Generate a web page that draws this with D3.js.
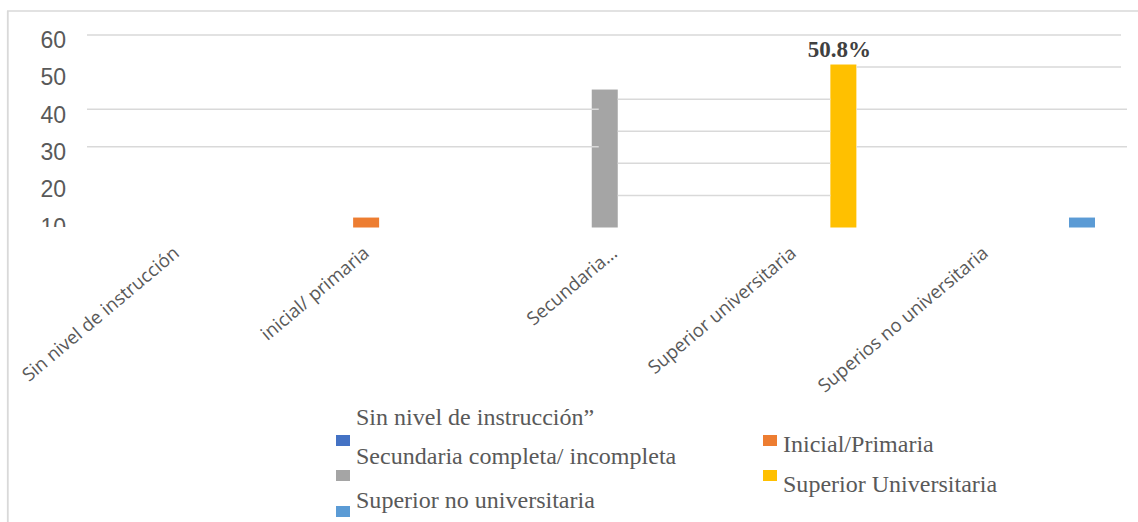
<!DOCTYPE html>
<html>
<head>
<meta charset="utf-8">
<script src="https://cdn.jsdelivr.net/npm/d3@7"></script>
<style>
  html, body { margin: 0; padding: 0; background: #fff; }
  svg { display: block; }
</style>
</head>
<body>
<svg id="chart" width="1138" height="522"></svg>
<script>
// ---- data ----
const categories = ["Sin nivel de instrucción", "inicial/ primaria", "Secundaria...", "Superior universitaria", "Superios no universitaria"];
const values = [0, 3.1, 43.0, 50.8, 3.1];
const barColors = ["#4472C4", "#ED7D31", "#A5A5A5", "#FFC000", "#5B9BD5"];
const dataLabels = ["", "", "", "50.8%", ""];
const yTicks = [60, 50, 40, 30, 20, 10];
const legendNames = ["Sin nivel de instrucción\u201D", "Inicial/Primaria", "Secundaria completa/ incompleta", "Superior Universitaria", "Superior no universitaria"];
const legendColors = ["#4472C4", "#ED7D31", "#A5A5A5", "#FFC000", "#5B9BD5"];

// ---- layout ----
const svg = d3.select("#chart");
const W = 1138, H = 522;
const grid = "#d9d9d9";
const plotLeft = 87, plotRight = 1121;
const bw = 26;

// scale used by bars (and the gridlines drawn with them)
const y = d3.scaleLinear().domain([0, 60]).range([227.5, 35]);
// scale of the value-axis labels panel
const yAx = d3.scaleLinear().domain([60, 30]).range([34.3, 146.7]);
// bar positions
const x = d3.scalePoint().domain(categories).range([127.5, 1082]);
// category label anchors
const xLab = d3.scaleOrdinal().domain(categories).range([172, 362, 610, 789, 981]);

// border
svg.append("line").attr("x1", 7).attr("x2", W).attr("y1", 11).attr("y2", 11)
  .attr("stroke", grid).attr("stroke-width", 1.6);
svg.append("line").attr("x1", 7.8).attr("x2", 7.8).attr("y1", 11).attr("y2", H)
  .attr("stroke", grid).attr("stroke-width", 1.8);

// bars
svg.append("g").selectAll("rect").data(categories).join("rect")
  .attr("x", d => x(d) - bw / 2)
  .attr("width", bw)
  .attr("y", (d, i) => y(values[i]))
  .attr("height", (d, i) => y(0) - y(values[i]))
  .attr("fill", (d, i) => barColors[i]);

// gridlines (patchwork as in reference)
const gl = svg.append("g").attr("stroke", grid).attr("stroke-width", 1.5);
function seg(x1, x2, yy) {
  gl.append("line").attr("x1", x1).attr("x2", x2).attr("y1", yy).attr("y2", yy);
}
const grayL = x(categories[2]) - bw / 2, grayR = x(categories[2]) + bw / 2;
const yelL = x(categories[3]) - bw / 2, yelR = x(categories[3]) + bw / 2;
seg(plotLeft, plotRight, y(60));
seg(yelR, plotRight, y(50));
[40, 30, 20, 10].forEach(v => seg(grayR, yelL, y(v)));
[40, 30].forEach(v => {
  seg(plotLeft, grayL + 7, yAx(v));
  seg(yelR, plotRight + 6, yAx(v));
});

// value-axis labels (clipped at the bottom like the reference)
svg.append("clipPath").attr("id", "axclip").append("rect")
  .attr("x", 0).attr("y", 0).attr("width", 86).attr("height", 227);
svg.append("g").attr("clip-path", "url(#axclip)")
  .selectAll("text").data(yTicks).join("text")
  .attr("x", 66).attr("y", d => yAx(d) + 5)
  .attr("dy", "0.36em")
  .attr("text-anchor", "end")
  .attr("font-family", "Liberation Sans, Arial, sans-serif")
  .attr("font-size", 23)
  .attr("fill", "#595959")
  .text(d => d);

// category labels
svg.append("g").selectAll("text").data(categories).join("text")
  .attr("transform", d => `translate(${xLab(d)},245) rotate(-40)`)
  .attr("dy", "0.71em")
  .attr("text-anchor", "end")
  .attr("font-family", "Open Sans, sans-serif")
  .attr("font-size", 18.5)
  .attr("fill", "#595959")
  .text(d => d);

// data label
svg.append("g").selectAll("text").data(categories.filter((d, i) => dataLabels[i]))
  .join("text")
  .attr("x", d => x(d) - 4)
  .attr("y", d => y(values[categories.indexOf(d)]) - 8)
  .attr("text-anchor", "middle")
  .attr("font-family", "Liberation Serif, Times New Roman, serif")
  .attr("font-weight", "bold")
  .attr("font-size", 23)
  .attr("fill", "#404040")
  .text(d => dataLabels[categories.indexOf(d)]);

// legend
const legPos = [
  {mx: 336, my: 435, tx: 356, ty: 425},
  {mx: 763, my: 435, tx: 783, ty: 452},
  {mx: 336, my: 470, tx: 356, ty: 464},
  {mx: 763, my: 470, tx: 783, ty: 492},
  {mx: 336, my: 506, tx: 356, ty: 508}
];
const lg = svg.append("g").selectAll("g").data(legendNames).join("g");
lg.append("rect")
  .attr("x", (d, i) => legPos[i].mx).attr("y", (d, i) => legPos[i].my)
  .attr("width", 14).attr("height", 11)
  .attr("fill", (d, i) => legendColors[i]);
lg.append("text")
  .attr("transform", (d, i) => `translate(${legPos[i].tx},${legPos[i].ty}) scale(1.045,1)`)
  .attr("font-family", "Liberation Serif, Times New Roman, serif")
  .attr("font-size", 23)
  .attr("fill", "#595959")
  .text(d => d);
</script>
</body>
</html>
